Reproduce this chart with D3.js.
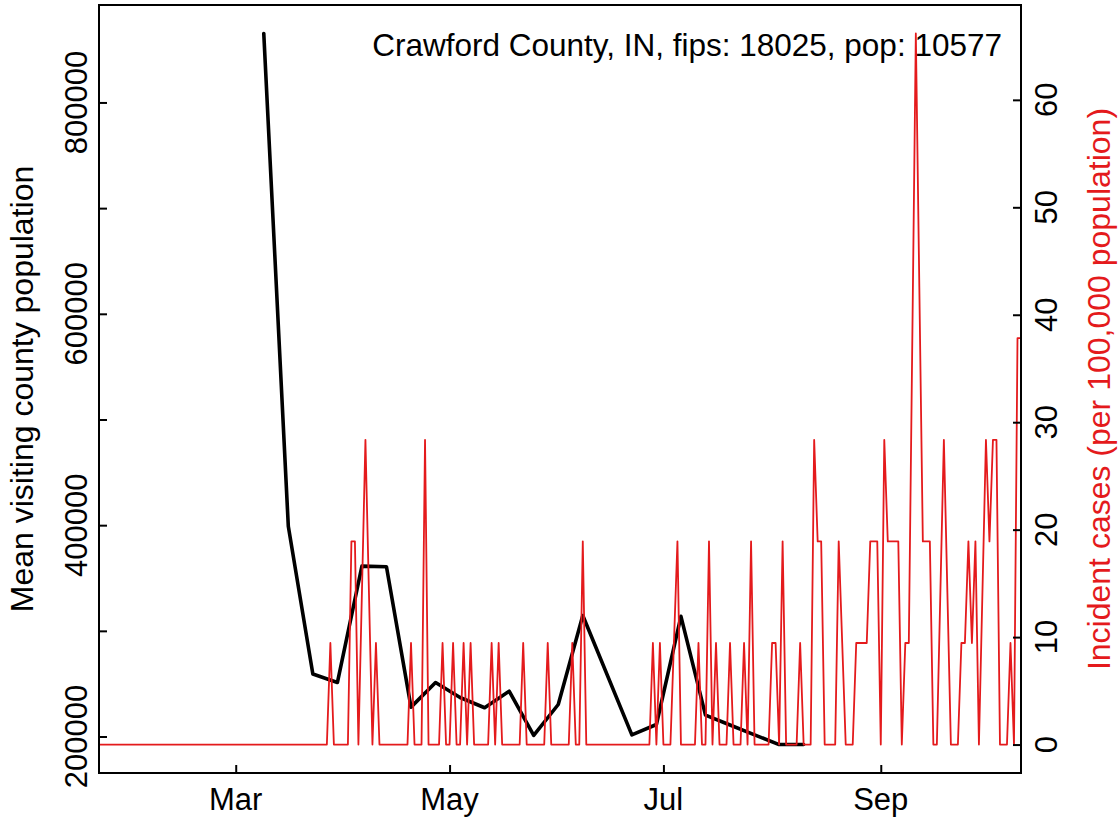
<!DOCTYPE html>
<html>
<head>
<meta charset="utf-8">
<script src="https://cdn.jsdelivr.net/npm/d3@7"></script>
<style>
  html, body { margin: 0; padding: 0; background: #fff; }
  svg { display: block; }
  text { font-family: "Liberation Sans", Arial, Helvetica, sans-serif; }
</style>
</head>
<body>
<svg id="chart" width="1119" height="822"></svg>
<script>
// ---------------- data ----------------
const titleText = "Crawford County, IN, fips: 18025, pop: 10577";
const leftAxisTitle = "Mean visiting county population";
const rightAxisTitle = "Incident cases (per 100,000 population)";

// daily incident cases per 100,000, 2020-01-22 .. 2020-10-11
const caseStart = "2020-01-22";
const caseEnd = "2020-10-11";
const incJan = [0,0,0,0,0,0,0,0,0,0];
const incFeb = [0,0,0,0,0,0,0,0,0,0,0,0,0,0,0,0,0,0,0,0,0,0,0,0,0,0,0,0,0];
const incMar = [0,0,0,0,0,0,0,0,0,0,0,0,0,0,0,0,0,0,0,0,0,0,0,0,0,0,0,9.45,0,0,0];
const incApr = [0,0,18.91,18.91,0,14.18,28.36,14.18,0,9.45,0,0,0,0,0,0,0,0,0,9.45,0,0,0,28.36,0,0,0,0,9.45,0];
const incMay = [0,9.45,0,0,9.45,0,9.45,0,0,0,0,0,9.45,0,9.45,0,0,0,0,0,0,9.45,0,0,0,0,0,0,9.45,0,0];
const incJun = [0,0,0,0,9.45,0,0,18.91,0,0,0,0,0,0,0,0,0,0,0,0,0,0,0,0,0,0,0,9.45,0,9.45];
const incJul = [0,0,0,9.45,18.91,0,0,0,0,0,9.45,0,0,18.91,0,9.45,0,0,0,9.45,0,0,0,9.45,0,18.91,0,0,0,0,0];
const incAug = [9.45,9.45,0,18.91,0,0,0,0,9.45,0,0,0,28.36,18.91,18.91,0,0,0,0,18.91,9.45,0,0,0,9.45,9.45,9.45,9.45,18.91,18.91,18.91];
const incSep = [0,28.36,18.91,18.91,18.91,18.91,0,9.45,9.45,37.82,66.18,42.55,18.91,18.91,18.91,0,0,14.18,28.36,14.18,0,0,0,9.45,9.45,18.91,9.45,18.91,0,14.18];
const incOct = [28.36,18.91,28.36,28.36,0,0,0,9.45,0,37.82,37.82];
const incidence = [].concat(incJan, incFeb, incMar, incApr, incMay, incJun, incJul, incAug, incSep, incOct);

// weekly mean visiting county population
const mobilityDates = ["2020-03-09","2020-03-16","2020-03-23","2020-03-30","2020-04-06","2020-04-13",
  "2020-04-20","2020-04-27","2020-05-04","2020-05-11","2020-05-18","2020-05-25","2020-06-01",
  "2020-06-08","2020-06-22","2020-06-29","2020-07-06","2020-07-13","2020-07-20","2020-07-27",
  "2020-08-03","2020-08-10"];
const mobilityValues = [865300,399000,259100,251100,361200,360600,
  227800,251100,236900,227200,242900,201000,230300,
  314500,201600,211400,313700,220300,210900,201600,
  192400,192400];

const leftTicks = [200000,300000,400000,500000,600000,700000,800000];
const leftTickLabels = ["200000","","400000","","600000","","800000"];
const rightTicks = [0,10,20,30,40,50,60];
const monthTicks = ["2020-03-01","2020-05-01","2020-07-01","2020-09-01"];
const monthLabels = ["Mar","May","Jul","Sep"];

// ---------------- layout ----------------
const plot = {left: 99, right: 1021, top: 5, bottom: 773};
const parseDate = d3.utcParse("%Y-%m-%d");
const caseDates = d3.utcDay.range(parseDate(caseStart), d3.utcDay.offset(parseDate(caseEnd), 1));
const caseData = caseDates.map((d, i) => ({date: d, value: incidence[i]}));
const mobData = mobilityDates.map((d, i) => ({date: parseDate(d), value: mobilityValues[i]}));

const svg = d3.select("#chart");

const x = d3.scaleUtc()
  .domain([caseDates[0], caseDates[caseDates.length - 1]])
  .range([plot.left, plot.right]);

function padded(ext) { const r = ext[1] - ext[0]; return [ext[0] - 0.04 * r, ext[1] + 0.04 * r]; }
const yL = d3.scaleLinear().domain(padded(d3.extent(mobilityValues))).range([plot.bottom, plot.top]);
const yR = d3.scaleLinear().domain(padded(d3.extent(incidence))).range([plot.bottom, plot.top]);

const red = "#E41A1C";
const fontSize = 31;
const titleFont = 31.5;
const axisTitleFont = 32;

svg.append("defs").append("clipPath").attr("id", "clip")
  .append("rect").attr("x", plot.left).attr("y", plot.top)
  .attr("width", plot.right - plot.left).attr("height", plot.bottom - plot.top);

const g = svg.append("g").attr("clip-path", "url(#clip)");

// black mobility line
g.append("path").datum(mobData)
  .attr("fill", "none").attr("stroke", "#000").attr("stroke-width", 3.6)
  .attr("stroke-linejoin", "round").attr("stroke-linecap", "round")
  .attr("d", d3.line().x(d => x(d.date)).y(d => yL(d.value)));

// red incidence line
g.append("path").datum(caseData)
  .attr("fill", "none").attr("stroke", red).attr("stroke-width", 1.8)
  .attr("stroke-linejoin", "round").attr("stroke-linecap", "round")
  .attr("d", d3.line().x(d => x(d.date)).y(d => yR(d.value)));

// axes (ticks inward)
const tickLen = 8;
const bottomAxis = d3.axisBottom(x).tickValues(monthTicks.map(parseDate))
  .tickSize(-tickLen).tickFormat("");
const gb = svg.append("g").attr("transform", `translate(0,${plot.bottom})`).call(bottomAxis);
const leftAxis = d3.axisLeft(yL).tickValues(leftTicks).tickSize(-tickLen).tickFormat("");
const gl = svg.append("g").attr("transform", `translate(${plot.left},0)`).call(leftAxis);
const rightAxis = d3.axisRight(yR).tickValues(rightTicks).tickSize(-tickLen).tickFormat("");
const gr = svg.append("g").attr("transform", `translate(${plot.right},0)`).call(rightAxis);
[gb, gl, gr].forEach(a => {
  a.select(".domain").remove();
  a.selectAll(".tick line").attr("stroke", "#000").attr("stroke-width", 2);
});

// box
svg.append("rect").attr("x", plot.left).attr("y", plot.top)
  .attr("width", plot.right - plot.left).attr("height", plot.bottom - plot.top)
  .attr("fill", "none").attr("stroke", "#000").attr("stroke-width", 2);

// bottom labels
svg.append("g").selectAll("text").data(monthTicks).join("text")
  .attr("x", d => x(parseDate(d))).attr("y", 810)
  .attr("text-anchor", "middle").attr("font-size", fontSize).attr("fill", "#000")
  .text((d, i) => monthLabels[i]);

// left tick labels (rotated)
svg.append("g").selectAll("text").data(leftTicks).join("text")
  .attr("transform", d => `translate(87,${yL(d)}) rotate(-90)`)
  .attr("text-anchor", "middle").attr("font-size", fontSize).attr("fill", "#000")
  .text((d, i) => leftTickLabels[i]);

// right tick labels (rotated)
svg.append("g").selectAll("text").data(rightTicks).join("text")
  .attr("transform", d => `translate(1057,${yR(d)}) rotate(-90)`)
  .attr("text-anchor", "middle").attr("font-size", fontSize).attr("fill", "#000")
  .text(d => d);

const midY = (plot.top + plot.bottom) / 2;
svg.append("text")
  .attr("transform", `translate(33,${midY}) rotate(-90)`)
  .attr("text-anchor", "middle").attr("font-size", axisTitleFont).attr("fill", "#000")
  .text(leftAxisTitle);
svg.append("text")
  .attr("transform", `translate(1110,${midY}) rotate(-90)`)
  .attr("text-anchor", "middle").attr("font-size", axisTitleFont).attr("fill", red)
  .text(rightAxisTitle);

// title inside plot
svg.append("text")
  .attr("x", 1002).attr("y", 56)
  .attr("text-anchor", "end").attr("font-size", titleFont).attr("fill", "#000")
  .text(titleText);
</script>
</body>
</html>
